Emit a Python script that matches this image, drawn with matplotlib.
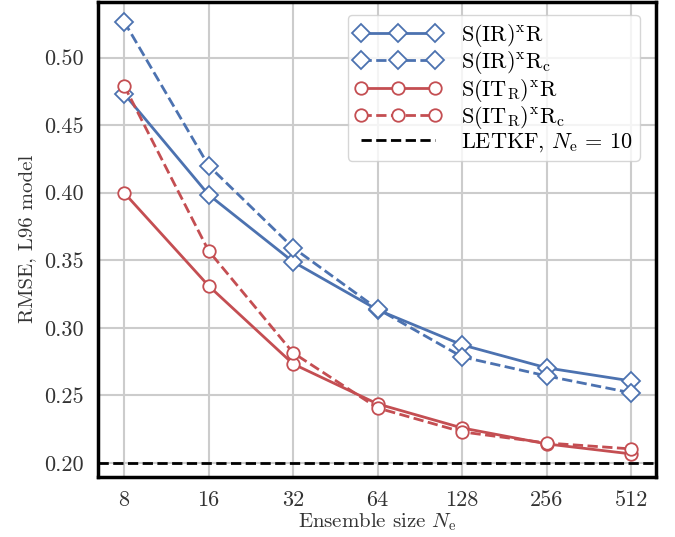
import matplotlib
matplotlib.use("Agg")
import matplotlib.pyplot as plt
import numpy as np

plt.rcParams['font.family'] = 'serif'
plt.rcParams['font.serif'] = ['cmr10', 'DejaVu Serif']
plt.rcParams['mathtext.fontset'] = 'cm'
plt.rcParams['axes.formatter.use_mathtext'] = True

ens = [8, 16, 32, 64, 128, 256, 512]
ir_R = [0.4733, 0.3985, 0.3489, 0.3133, 0.2874, 0.2704, 0.2607]
ir_Rc = [0.5267, 0.4200, 0.3593, 0.3140, 0.2785, 0.2644, 0.2519]
it_R = [0.4000, 0.3311, 0.2733, 0.2437, 0.2259, 0.2141, 0.2067]
it_Rc = [0.4793, 0.3570, 0.2815, 0.2407, 0.2230, 0.2148, 0.2104]
letkf = 0.20

blue = '#4C72B0'
red = '#C44E52'

fig = plt.figure(figsize=(6.75, 5.37), dpi=100)
ax = fig.add_axes([0.1452, 0.1117, 0.8267, 0.8855])

dkw = dict(lw=2, marker='D', ms=9.5, mfc='white', mec=blue, mew=1.3, zorder=3)
okw = dict(lw=2, marker='o', ms=9, mfc='white', mec=red, mew=1.3, zorder=3)
ax.plot(ens, ir_R, '-', color=blue, label=r'S(IR)$^{\mathrm{x}}$R', **dkw)
ax.plot(ens, ir_Rc, '--', color=blue, label=r'S(IR)$^{\mathrm{x}}$R$_{\mathrm{c}}$', **dkw)
ax.plot(ens, it_R, '-', color=red, label=r'S(IT$_{\mathrm{R}}$)$^{\mathrm{x}}$R', **okw)
ax.plot(ens, it_Rc, '--', color=red, label=r'S(IT$_{\mathrm{R}}$)$^{\mathrm{x}}$R$_{\mathrm{c}}$', **okw)
ax.axhline(letkf, color='black', ls='--', lw=2, label=r'LETKF, $N_{\mathrm{e}}$ = 10', zorder=2)

ax.set_xscale('log', base=2)
ax.set_xticks(ens)
ax.set_xticklabels([str(e) for e in ens])
ax.minorticks_off()
ax.set_xlim(6.46, 628)
ax.set_ylim(0.1896, 0.5415)
ax.set_yticks([0.20, 0.25, 0.30, 0.35, 0.40, 0.45, 0.50])
ax.set_yticklabels(['0.20', '0.25', '0.30', '0.35', '0.40', '0.45', '0.50'])

ax.grid(True, color='#cccccc', lw=1.5)
ax.set_axisbelow(True)
for s in ax.spines.values():
    s.set_color('black')
    s.set_linewidth(2.5)
ax.tick_params(length=0, pad=10, labelsize=16, labelcolor='#333333')

ax.set_xlabel(r'Ensemble size $N_{\mathrm{e}}$', fontsize=15, color='#333333', labelpad=1)
ax.set_ylabel('RMSE, L96 model', fontsize=15, color='#333333', labelpad=6)

leg = ax.legend(loc='upper right', numpoints=3, handlelength=3.9, fontsize=16,
                frameon=True, borderpad=0.3, labelspacing=0.02, handletextpad=0.9,
                fancybox=True, bbox_to_anchor=(0.991, 0.995))
leg.get_frame().set_edgecolor('#cccccc')

fig.savefig('out.png', dpi=100)
